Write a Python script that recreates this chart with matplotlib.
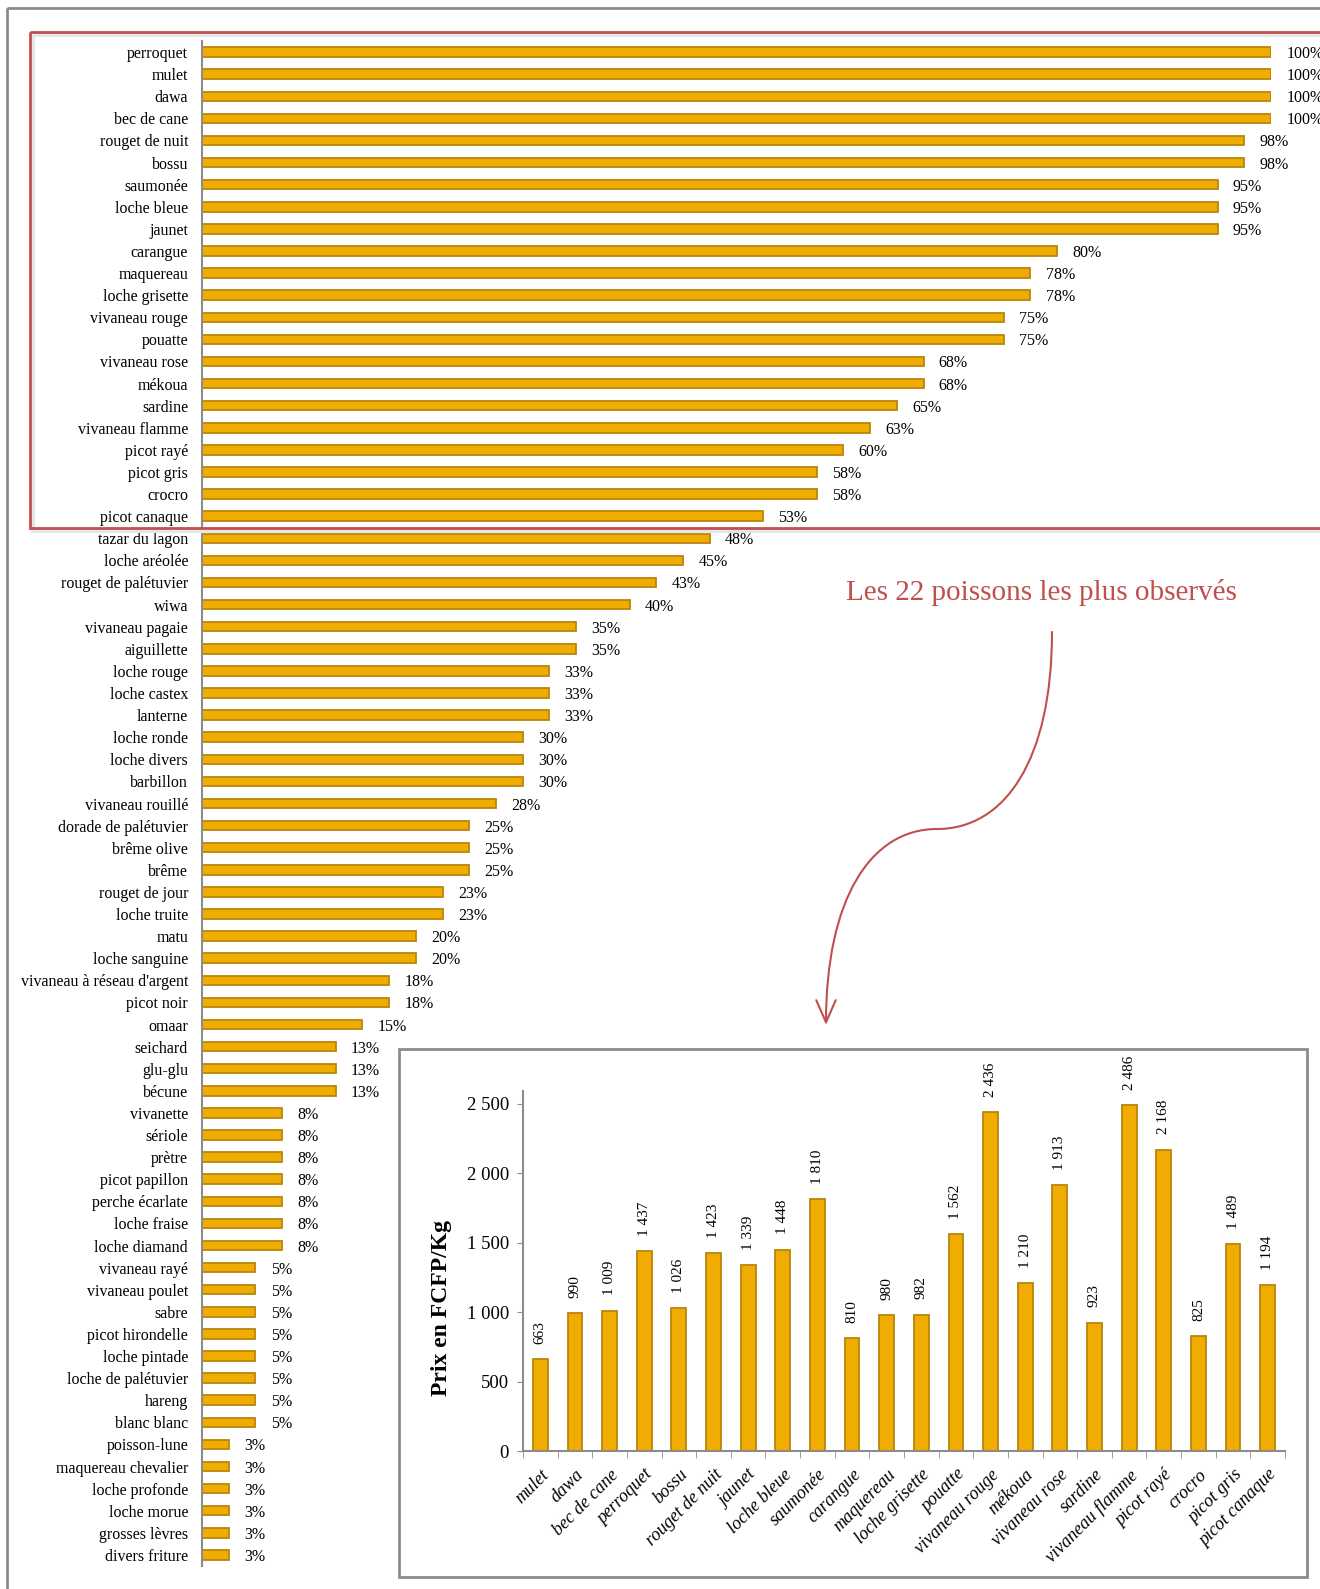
import matplotlib
matplotlib.use("Agg")
import matplotlib.pyplot as plt
from matplotlib.patches import Rectangle, FancyArrowPatch
from matplotlib.path import Path

plt.rcParams['font.family'] = ['Liberation Serif', 'DejaVu Serif']

# fréquence d'observation des poissons (en %, longueur des barres)
poissons = ["perroquet", "mulet", "dawa", "bec de cane", "rouget de nuit", "bossu",
            "saumonée", "loche bleue", "jaunet", "carangue", "maquereau", "loche grisette",
            "vivaneau rouge", "pouatte", "vivaneau rose", "mékoua", "sardine",
            "vivaneau flamme", "picot rayé", "picot gris", "crocro", "picot canaque",
            "tazar du lagon", "loche aréolée", "rouget de palétuvier", "wiwa",
            "vivaneau pagaie", "aiguillette", "loche rouge", "loche castex", "lanterne",
            "loche ronde", "loche divers", "barbillon", "vivaneau rouillé",
            "dorade de palétuvier", "brême olive", "brême", "rouget de jour", "loche truite",
            "matu", "loche sanguine", "vivaneau à réseau d'argent", "picot noir", "omaar",
            "seichard", "glu-glu", "bécune", "vivanette", "sériole", "prètre",
            "picot papillon", "perche écarlate", "loche fraise", "loche diamand",
            "vivaneau rayé", "vivaneau poulet", "sabre", "picot hirondelle", "loche pintade",
            "loche de palétuvier", "hareng", "blanc blanc", "poisson-lune",
            "maquereau chevalier", "loche profonde", "loche morue", "grosses lèvres",
            "divers friture"]
pourcent = [100, 100, 100, 100, 97.5, 97.5, 95, 95, 95, 80, 77.5, 77.5, 75, 75, 67.5, 67.5,
            65, 62.5, 60, 57.5, 57.5, 52.5, 47.5, 45, 42.5, 40, 35, 35, 32.5, 32.5, 32.5,
            30, 30, 30, 27.5, 25, 25, 25, 22.5, 22.5, 20, 20, 17.5, 17.5, 15, 12.5, 12.5,
            12.5, 7.5, 7.5, 7.5, 7.5, 7.5, 7.5, 7.5, 5, 5, 5, 5, 5, 5, 5, 5,
            2.5, 2.5, 2.5, 2.5, 2.5, 2.5]

# prix moyen des 22 poissons les plus observés
poissons_prix = ["mulet", "dawa", "bec de cane", "perroquet", "bossu", "rouget de nuit",
                 "jaunet", "loche bleue", "saumonée", "carangue", "maquereau",
                 "loche grisette", "pouatte", "vivaneau rouge", "mékoua", "vivaneau rose",
                 "sardine", "vivaneau flamme", "picot rayé", "crocro", "picot gris",
                 "picot canaque"]
prix = [663, 990, 1009, 1437, 1026, 1423, 1339, 1448, 1810, 810, 980, 982, 1562, 2436,
        1210, 1913, 923, 2486, 2168, 825, 1489, 1194]
prix_ticks = [0, 500, 1000, 1500, 2000, 2500]

W, H = 1320, 1589
orange = '#F0AC00'
bord = '#B8860B'
rouge = '#C0504D'
gris = '#8C8C8C'


def fmt(n):
    return f"{n:,}".replace(",", " ")


fig = plt.figure(figsize=(W / 100, H / 100), dpi=100)

# ---- graphique principal (barres horizontales)
ax = fig.add_axes([202 / W, (H - 1566) / H, 1069 / W, 1525 / H])
ypos = list(range(len(poissons)))
ax.barh(ypos, pourcent, height=0.43, color=orange, edgecolor=bord, linewidth=1.3)
ax.set_xlim(0, 100)
ax.set_ylim(len(poissons) - 0.5, -0.5)
ax.set_yticks(ypos)
ax.set_yticklabels(poissons, fontsize=11.5)
ax.tick_params(axis='y', length=0, pad=10)
ax.set_xticks([])
for s in ['top', 'right', 'bottom']:
    ax.spines[s].set_visible(False)
ax.spines['left'].set_color(gris)
ax.spines['left'].set_linewidth(1.5)
for y, v in zip(ypos, pourcent):
    # arrondi comme dans Excel (0.5 vers le haut)
    ax.annotate(f"{int(v + 0.5)}%", xy=(v, y), xytext=(11, 0), textcoords='offset points',
                va='center_baseline', ha='left', fontsize=11.5, annotation_clip=False)

# ---- encart : prix
ax2 = fig.add_axes([523 / W, (H - 1451) / H, 762 / W, 360 / H])
xpos = list(range(len(poissons_prix)))
ax2.bar(xpos, prix, width=0.43, color=orange, edgecolor=bord, linewidth=1.3)
ax2.set_xlim(-0.5, len(poissons_prix) - 0.5)
ax2.set_ylim(0, 2590)
ax2.set_yticks(prix_ticks)
ax2.set_yticklabels([fmt(t) for t in prix_ticks], fontsize=13.5)
ax2.tick_params(axis='y', length=4, color=gris, pad=6)
ax2.set_xticks(xpos)
ax2.set_xticklabels(poissons_prix, rotation=45, ha='right', rotation_mode='anchor',
                    fontsize=13, style='italic')
ax2.set_xticks([i + 0.5 for i in range(-1, len(poissons_prix))], minor=True)
ax2.tick_params(axis='x', which='major', length=0, pad=11)
ax2.tick_params(axis='x', which='minor', length=5, color=gris)
for s in ['top', 'right']:
    ax2.spines[s].set_visible(False)
for s in ['left', 'bottom']:
    ax2.spines[s].set_color(gris)
    ax2.spines[s].set_linewidth(1.5)
for x, v in zip(xpos, prix):
    ax2.annotate(fmt(v), xy=(x, v), xytext=(0, 11), textcoords='offset points',
                 rotation=90, ha='center', va='bottom', fontsize=11)
fig.text(441 / W, 1 - 1308 / H, "Prix en FCFP/Kg", rotation=90, ha='center',
         va='center', fontsize=17, fontweight='bold')

# ---- cadres, texte et flèche (coordonnées en pixels)
ov = fig.add_axes([0, 0, 1, 1], facecolor='none')
ov.set_xlim(0, W)
ov.set_ylim(H, 0)
ov.set_axis_off()
ov.add_patch(Rectangle((7, 8), W + 20, H + 20, fill=False, edgecolor=gris, lw=2))
ov.add_patch(Rectangle((33, 35), W, 496, fill=False, edgecolor='#E6E6E6', lw=3))
ov.add_patch(Rectangle((30, 32), W, 496, fill=False, edgecolor=rouge, lw=2))
ov.add_patch(Rectangle((399, 1049), 908, 528, fill=False, edgecolor=gris, lw=2))
ov.text(1041, 592, "Les 22 poissons les plus observés", color=rouge, fontsize=21,
        ha='center', va='center')
verts = [(1052, 632), (1052, 760), (1005, 829), (937, 829),
         (870, 829), (826, 900), (826, 1025)]
codes = [Path.MOVETO, Path.CURVE4, Path.CURVE4, Path.CURVE4,
         Path.CURVE4, Path.CURVE4, Path.CURVE4]
fleche = FancyArrowPatch(path=Path(verts, codes), arrowstyle='->,head_length=0.8,head_width=0.35',
                         mutation_scale=20, color=rouge, lw=1.5)
ov.add_patch(fleche)

fig.savefig("out.png", dpi=100)
